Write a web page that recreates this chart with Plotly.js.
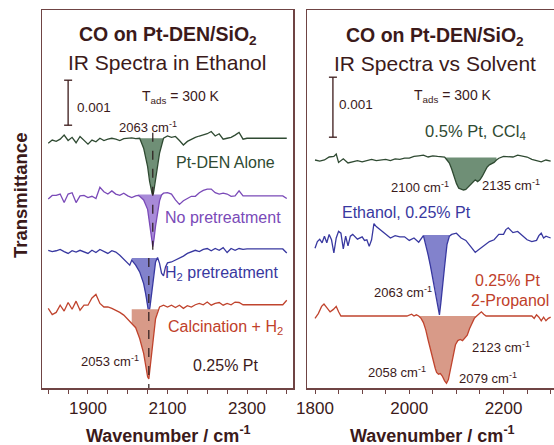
<!DOCTYPE html>
<html><head><meta charset="utf-8">
<script src="https://cdn.plot.ly/plotly-3.0.1.min.js"></script>
<style>html,body{margin:0;padding:0;overflow:hidden;background:#fff}#chart{width:560px;height:445px}</style>
</head><body><div id="chart"></div><script>
// ---------- DATA (transmittance change in units of 0.001, relative to each trace's baseline) ----------
const ptDenAlone = [[1800,-0.11],[1810,-0.04],[1820,-0.07],[1830,-0.02],[1840,0.07],[1850,-0.05],[1860,0.02],[1870,-0.10],[1880,0.04],[1890,-0.05],[1900,-0.13],[1910,-0.04],[1920,-0.08],[1930,0],[1940,-0.05],[1950,-0.02],[1960,0],[1970,-0.02],[1980,-0.05],[1990,-0.01],[2000,0],[2010,0.01],[2020,-0.01],[2030,0],[2040,-0.22],[2050,-0.63],[2055,-0.96],[2060,-1.2],[2063,-1.3],[2066,-1.15],[2070,-0.9],[2080,-0.33],[2090,0],[2100,0.05],[2110,0.02],[2120,0.04],[2130,-0.05],[2140,-0.15],[2150,-0.07],[2160,-0.02],[2170,0.02],[2180,0.05],[2190,0.07],[2200,0.1],[2210,0.15],[2220,0.05],[2230,0.1],[2240,-0.02],[2250,0],[2260,0.02],[2270,0.07],[2280,0.13],[2290,-0.02],[2300,0],[2400,0]];
const noPretreatment = [[1800,-0.07],[1810,0.01],[1820,0.01],[1830,0.04],[1840,-0.15],[1850,0.04],[1860,0.07],[1870,-0.15],[1880,0],[1890,0.01],[1900,-0.04],[1910,-0.01],[1920,-0.06],[1930,0.19],[1940,0.09],[1950,0.04],[1960,0.11],[1970,0.04],[1980,0.01],[1990,0.06],[2000,0],[2010,-0.04],[2020,0],[2026,0.01],[2030,-0.01],[2040,-0.09],[2050,-0.3],[2055,-0.63],[2060,-1.0],[2063,-1.13],[2066,-0.96],[2070,-0.67],[2080,-0.11],[2085,0.02],[2090,0.06],[2100,0.07],[2110,0.04],[2120,-0.09],[2130,-0.19],[2140,-0.11],[2150,-0.06],[2160,-0.01],[2170,-0.01],[2180,0.07],[2190,0.12],[2200,0.15],[2210,0.15],[2220,0.07],[2230,0.04],[2240,0.06],[2250,0.04],[2260,-0.01],[2270,0],[2280,0.11],[2290,0],[2300,0],[2390,0],[2400,-0.06]];
const h2Pretreatment = [[1800,0.04],[1810,0.01],[1820,0.03],[1830,0.06],[1840,0.01],[1850,-0.03],[1860,0.03],[1870,0],[1880,0.04],[1890,0.01],[1900,-0.03],[1910,0.04],[1920,-0.01],[1930,0.06],[1940,0.01],[1950,-0.03],[1960,0.03],[1970,0],[1980,-0.07],[1990,-0.16],[2000,-0.24],[2005,-0.29],[2010,-0.18],[2020,-0.29],[2030,-0.44],[2040,-0.7],[2045,-0.92],[2050,-1.21],[2053,-1.36],[2056,-1.21],[2060,-0.92],[2065,-0.55],[2070,-0.22],[2075,-0.12],[2080,-0.25],[2085,-0.47],[2090,-0.53],[2095,-0.33],[2100,-0.24],[2110,-0.22],[2120,-0.18],[2130,-0.14],[2140,-0.09],[2150,-0.03],[2160,0.01],[2170,0.04],[2180,0.01],[2190,0.06],[2200,0.08],[2210,0.03],[2220,0.08],[2230,0.04],[2240,0.1],[2250,-0.01],[2260,0.08],[2270,0.04],[2280,0.08],[2290,0.06],[2300,0.07],[2390,0.07],[2400,-0.02]];
const calcinationH2 = [[1800,-0.07],[1810,-0.21],[1820,-0.16],[1830,0],[1840,-0.13],[1850,0.06],[1860,-0.09],[1870,0.09],[1880,-0.11],[1890,0],[1900,0],[1910,0.16],[1920,0.24],[1930,0.04],[1940,-0.04],[1950,-0.04],[1960,-0.07],[1970,-0.11],[1980,-0.16],[1990,-0.22],[2000,-0.31],[2010,-0.39],[2020,-0.5],[2030,-0.74],[2040,-1.07],[2045,-1.33],[2050,-1.59],[2053,-1.64],[2056,-1.41],[2060,-1.11],[2065,-0.7],[2070,-0.3],[2080,-0.04],[2090,0],[2100,-0.04],[2110,0],[2120,-0.05],[2130,0],[2140,-0.07],[2150,-0.01],[2160,-0.04],[2170,0.01],[2180,0.04],[2190,0.01],[2200,0.07],[2210,0],[2220,0.04],[2230,0.06],[2240,0],[2250,0.04],[2260,0.01],[2270,0.07],[2280,0.06],[2290,0.01],[2300,0.01],[2390,0.01],[2400,0.11]];

const ccl4Pt05 = [[1800,0.01],[1810,-0.01],[1820,0.01],[1830,0.06],[1840,0.07],[1845,0.11],[1850,-0.03],[1860,0.03],[1870,-0.04],[1880,-0.02],[1890,0],[1900,-0.02],[1910,0],[1920,0.02],[1930,0],[1940,0.01],[1950,0.02],[1960,0],[1970,0.03],[1980,0.02],[1990,0.04],[2000,0.04],[2010,0.07],[2020,0.08],[2030,0.09],[2040,0.06],[2050,0.08],[2060,0.07],[2070,0.07],[2075,0.06],[2080,0.01],[2085,-0.04],[2090,-0.14],[2095,-0.27],[2100,-0.38],[2105,-0.46],[2110,-0.48],[2115,-0.49],[2120,-0.48],[2125,-0.44],[2130,-0.39],[2135,-0.35],[2140,-0.32],[2145,-0.35],[2150,-0.32],[2155,-0.26],[2160,-0.18],[2165,-0.11],[2170,-0.07],[2180,-0.03],[2185,0.01],[2190,0.04],[2200,0.07],[2210,0.07],[2220,0.06],[2230,0.09],[2240,0.07],[2250,0.06],[2260,0.02],[2270,0],[2280,-0.02],[2290,0.01],[2300,-0.01]];
const ethanolPt025 = [[1800,-0.17],[1805,-0.06],[1810,-0.02],[1815,-0.08],[1820,0.03],[1825,-0.08],[1830,0.06],[1835,-0.03],[1840,-0.25],[1845,0],[1850,0.11],[1855,0.08],[1860,-0.18],[1865,0.03],[1870,-0.13],[1875,0.03],[1880,0.06],[1890,-0.02],[1900,0.02],[1905,-0.04],[1910,-0.03],[1915,-0.14],[1920,-0.03],[1925,0.24],[1930,0.19],[1940,0.13],[1950,0.07],[1960,0],[1970,0.04],[1980,0.02],[1990,0.02],[2000,-0.04],[2010,0],[2020,-0.07],[2030,0.04],[2035,-0.11],[2040,-0.28],[2045,-0.47],[2050,-0.67],[2055,-0.86],[2060,-1.06],[2064,-1.28],[2067,-1.08],[2070,-0.81],[2075,-0.47],[2080,-0.11],[2085,0.03],[2090,0.06],[2100,0.08],[2110,0],[2120,-0.04],[2130,-0.14],[2140,-0.24],[2145,-0.21],[2150,-0.18],[2160,-0.13],[2170,-0.06],[2180,-0.03],[2190,0.06],[2200,0.06],[2205,0.14],[2210,0.17],[2220,0.09],[2230,0.11],[2240,0.04],[2250,-0.03],[2260,-0.06],[2270,-0.04],[2275,0.04],[2280,0.08],[2285,0],[2290,0.03],[2300,0]];
const propanolPt025 = [[1800,-0.04],[1807,0.04],[1814,0.16],[1819,0.2],[1825,0.14],[1832,0.07],[1839,0.11],[1845,0.16],[1850,0.07],[1855,0],[1995,0],[2000,0.02],[2005,0.03],[2010,0],[2015,0.02],[2020,0],[2025,-0.04],[2030,-0.11],[2035,-0.23],[2040,-0.4],[2045,-0.57],[2050,-0.73],[2055,-0.87],[2058,-0.94],[2062,-0.97],[2066,-0.96],[2070,-1.0],[2075,-1.08],[2079,-1.12],[2083,-1.06],[2088,-0.87],[2093,-0.65],[2098,-0.48],[2103,-0.41],[2108,-0.39],[2113,-0.41],[2118,-0.37],[2123,-0.32],[2128,-0.21],[2133,-0.11],[2138,-0.04],[2143,0],[2148,0.04],[2153,0.07],[2158,0.03],[2163,0],[2260,0],[2265,-0.04],[2270,0.02],[2275,-0.02],[2280,-0.08],[2285,-0.02],[2290,-0.08],[2295,-0.04],[2300,-0.02]];

// vertical offsets of each trace (units of 0.001)
const leftOffsets  = [5.55, 4.27, 3.02, 1.84];
const rightOffsets = [3.79, 2.50, 1.20];
// shaded band: [start, end, chord level] (cm-1, cm-1, 0.001)
const leftBands  = [[2030,2090,0],[2026,2085,0.03],[2010,2075,-0.13],[2010,2077,-0.09]];
const rightBands = [[2075,2185,0.05],[2030,2085,0.05],[2020,2143,0]];
const dashedPeaks = [2063, 2053];
const leftTicks  = [1800,1850,1900,1950,2000,2050,2100,2150,2200,2250,2300,2350,2400];
const leftTickLabels = ['','','1900','','','','2100','','','','2300','',''];
const rightTicks = [1800,1850,1900,1950,2000,2050,2100,2150,2200,2250,2300];
const rightTickLabels = ['1800','','','','2000','','','','2200','',''];
const scaleBar = 1; // 0.001

// ---------- STYLE ----------
const FONT = 'Liberation Sans, Arial, Helvetica, sans-serif';
const C = {title:'#3b1a1a', frame:'#6f4444', green:'#2f4a32', greenFill:'#6f8f76', purple:'#7a4ab8', purpleFill:'#a88ad8',
           blue:'#3838a0', blueFill:'#8282cc', red:'#c0442e', redFill:'#d89a88', redText:'#c0402a'};

function build(series, offset, band, xa, ya, color, fillColor) {
  const x = series.map(p => p[0]);
  const y = series.map(p => p[1] + offset);
  const seg = series.filter(p => p[0] >= band[0] && p[0] <= band[1]);
  const fx = [band[0], ...seg.map(p => p[0]), band[1]];
  const fy = [band[2] + offset, ...seg.map(p => p[1] + offset), band[2] + offset];
  return [
    {x: fx, y: fy, xaxis: xa, yaxis: ya, mode: 'lines', fill: 'toself', fillcolor: fillColor, line: {width: 0}, hoverinfo: 'skip'},
    {x, y, xaxis: xa, yaxis: ya, mode: 'lines', line: {color, width: 1.3}}
  ];
}

const traces = [
  ...build(ptDenAlone, leftOffsets[0], leftBands[0], 'x', 'y', C.green, C.greenFill),
  ...build(noPretreatment, leftOffsets[1], leftBands[1], 'x', 'y', C.purple, C.purpleFill),
  ...build(h2Pretreatment, leftOffsets[2], leftBands[2], 'x', 'y', C.blue, C.blueFill),
  ...build(calcinationH2, leftOffsets[3], leftBands[3], 'x', 'y', C.red, C.redFill),
  ...build(ccl4Pt05, rightOffsets[0], rightBands[0], 'x2', 'y2', C.green, C.greenFill),
  ...build(ethanolPt025, rightOffsets[1], rightBands[1], 'x2', 'y2', C.blue, C.blueFill),
  ...build(propanolPt025, rightOffsets[2], rightBands[2], 'x2', 'y2', C.red, C.redFill)
];

const W = 518, H = 378, L = 42, B = 388;
function txt(s, x, y, size, color, opts) {
  return Object.assign({text: s, x: (x - L) / W, y: (B - y) / H, xref: 'paper', yref: 'paper', showarrow: false,
    xanchor: 'center', yanchor: 'middle', font: {family: FONT, size, color}}, opts || {});
}
const cm = ' cm<sup>-1</sup>';
const annotations = [
  txt('<b>CO on Pt-DEN/SiO<sub>2</sub></b>', 168, 35, 19.5, C.title),
  txt('IR Spectra in Ethanol', 167, 62, 21, C.title),
  txt('0.001', 75, 107, 13.5, C.title, {xanchor: 'left'}),
  txt('T<sub>ads</sub> = 300 K', 181, 97, 14, C.title),
  txt('2063' + cm, 148, 127, 13, C.title),
  txt('Pt-DEN Alone', 225, 162, 16, C.green),
  txt('No pretreatment', 223, 217, 16, C.purple),
  txt('H<sub>2</sub> pretreatment', 222, 273, 16, C.blue),
  txt('Calcination + H<sub>2</sub>', 225, 327, 16, C.redText),
  txt('2053' + cm, 110, 361, 13, C.title),
  txt('0.25% Pt', 225, 365, 16, C.title),
  txt('<b>CO on Pt-DEN/SiO<sub>2</sub></b>', 435, 37, 19.5, C.title),
  txt('IR Spectra vs Solvent', 435, 63, 21, C.title),
  txt('0.001', 337, 105, 13.5, C.title, {xanchor: 'left'}),
  txt('T<sub>ads</sub> = 300 K', 453, 96, 14, C.title),
  txt('0.5% Pt, CCl<sub>4</sub>', 475, 132, 16.5, C.green),
  txt('2100' + cm, 420, 187, 13, C.title),
  txt('2135' + cm, 511, 185, 13, C.title),
  txt('Ethanol, 0.25% Pt', 406, 213, 16, C.blue),
  txt('2063' + cm, 403, 292, 13, C.title),
  txt('0.25% Pt', 507, 280, 16, C.redText),
  txt('2-Propanol', 510, 300, 16, C.redText),
  txt('2123' + cm, 501, 347, 13, C.title),
  txt('2058' + cm, 397, 372, 13, C.title),
  txt('2079' + cm, 488, 378, 13, C.title),
  txt('<b>Transmittance</b>', 20, 196, 18.5, C.title, {textangle: -90}),
  txt('<b>Wavenumber / cm<sup>-1</sup></b>', 168, 434, 18, C.title),
  txt('<b>Wavenumber / cm<sup>-1</sup></b>', 432, 434, 18, C.title)
];

function bar(xa, ya, xc, y0) {
  const ln = {color: C.title, width: 1.3};
  return [
    {type: 'line', xref: xa, yref: ya, x0: xc, x1: xc, y0: y0, y1: y0 + scaleBar, line: ln},
    {type: 'line', xref: xa, yref: ya, xsizemode: 'pixel', xanchor: xc, x0: -4, x1: 4, y0: y0, y1: y0, line: ln},
    {type: 'line', xref: xa, yref: ya, xsizemode: 'pixel', xanchor: xc, x0: -4, x1: 4, y0: y0 + scaleBar, y1: y0 + scaleBar, line: ln}
  ];
}
const dash = {color: '#2a1a1a', width: 1.2, dash: 'dash'};
const shapes = [
  ...bar('x', 'y', 1850, 5.84),
  ...bar('x2', 'y2', 1838, 4.18),
  {type: 'line', xref: 'x', yref: 'y', x0: dashedPeaks[0], x1: dashedPeaks[0], y0: 5.67, y1: 2.89, line: dash},
  {type: 'line', xref: 'x', yref: 'y', x0: dashedPeaks[1], x1: dashedPeaks[1], y0: 2.89, y1: 0, line: dash}
];

const axBase = {showline: true, mirror: true, linecolor: C.frame, linewidth: 1.5, showgrid: false, zeroline: false};
const xBase = Object.assign({}, axBase, {ticks: 'outside', ticklen: 4, tickwidth: 1, tickcolor: C.frame,
  tickfont: {family: FONT, size: 17, color: C.title}, tickmode: 'array'});
const layout = {
  width: 560, height: 445, margin: {l: 42, r: 0, t: 10, b: 57},
  paper_bgcolor: '#fff', plot_bgcolor: '#fff', showlegend: false,
  xaxis: Object.assign({}, xBase, {domain: [0, 251 / W], range: [1784.3, 2415.7], tickvals: leftTicks, ticktext: leftTickLabels, anchor: 'y'}),
  yaxis: Object.assign({}, axBase, {domain: [0, 1], range: [0, 8.4], showticklabels: false, ticks: '', anchor: 'x'}),
  xaxis2: Object.assign({}, xBase, {domain: [265 / W, 1], range: [1783, 2319.8], tickvals: rightTicks, ticktext: rightTickLabels, anchor: 'y2'}),
  yaxis2: Object.assign({}, axBase, {domain: [0, 1], range: [0, 6.3], showticklabels: false, ticks: '', anchor: 'x2'}),
  annotations, shapes
};
Plotly.newPlot('chart', traces, layout, {staticPlot: true, displayModeBar: false});
</script></body></html>
